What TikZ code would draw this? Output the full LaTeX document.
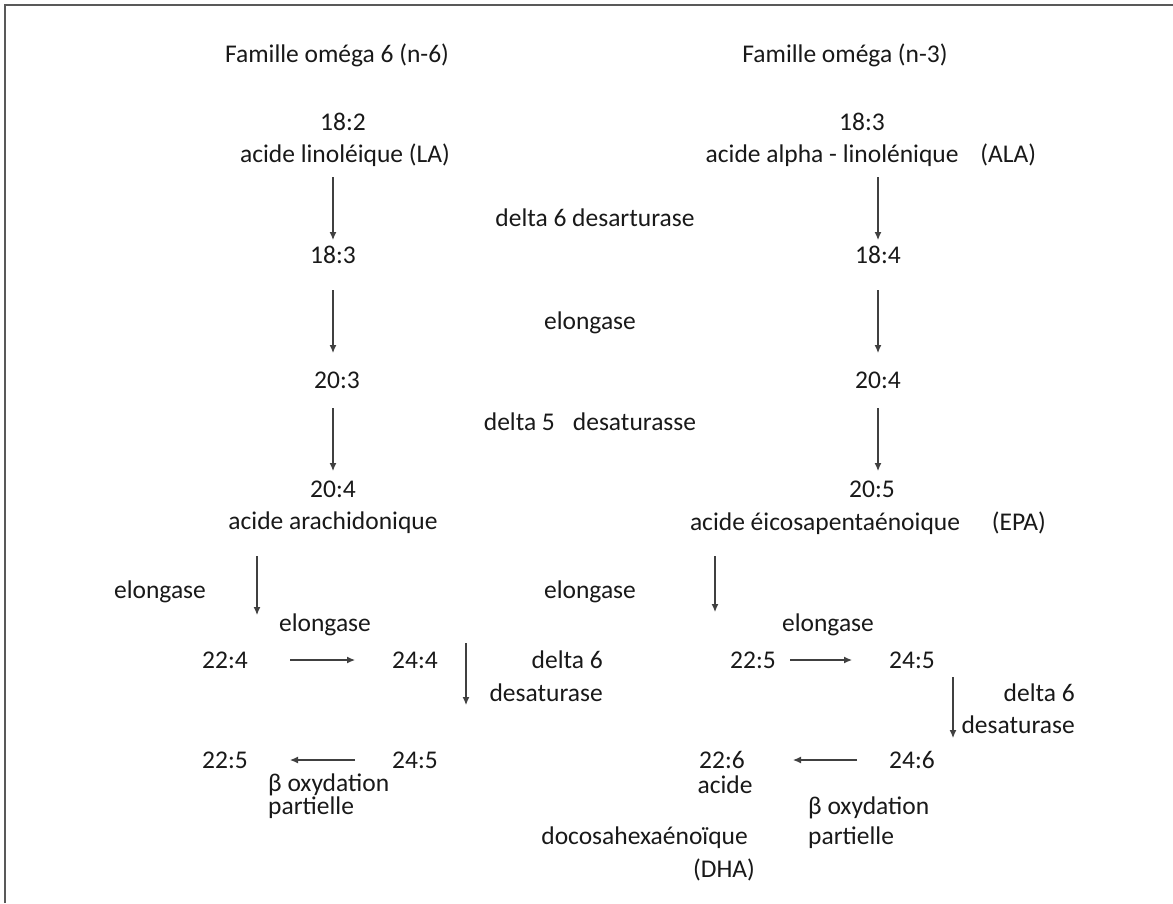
\documentclass[tikz,border=0pt]{standalone}
\usepackage{fontspec}
\setmainfont{Carlito}
\usetikzlibrary{arrows.meta}

\begin{document}
\begin{tikzpicture}
[every node/.style={inner sep=0pt, font=\fontsize{25.5pt}{30pt}\selectfont, text=black!90},
 arr/.style={line width=1.2pt, draw=black!75, -{Latex[length=8pt,width=7pt]}}]
\useasboundingbox (0pt, 0pt) rectangle (1173pt, -903pt);
\draw [line width=2pt, color=black!65] (5pt, -903pt) -- (5pt, -5pt) -- (1173pt, -5pt);
% titres
\node (t6) at (337pt, -55pt) {Famille oméga 6 (n-6)};
\node (t3) at (845pt, -55pt) {Famille oméga (n-3)};
% colonne n-6
\node (n182) at (343pt, -122pt) {18:2};
\node (la) at (345pt, -155pt) {acide linoléique (LA)};
\node (n183) at (333pt, -255pt) {18:3};
\node (n203) at (337pt, -380pt) {20:3};
\node (n204) at (333pt, -489pt) {20:4};
\node (aa) at (333pt, -523pt) {acide arachidonique};
% colonne n-3
\node (m183) at (862pt, -122pt) {18:3};
\node (ala) at (871pt, -155pt) {acide alpha - linolénique\hspace{22pt}(ALA)};
\node (m184) at (878pt, -255pt) {18:4};
\node (m204) at (878pt, -380pt) {20:4};
\node (m205) at (872pt, -489pt) {20:5};
\node (epa) at (868pt, -523pt) {acide éicosapentaénoique\hspace{32pt}(EPA)};
% enzymes
\node (d6) at (595pt, -218pt) {delta 6 desarturase};
\node (e0) at (590pt, -323pt) {elongase};
\node (d5) at (590pt, -422pt) {delta 5\hspace{18pt}desaturasse};
\node (el1) at (160pt, -592pt) {elongase};
\node (el2) at (590pt, -592pt) {elongase};
\node (el3) at (325pt, -625pt) {elongase};
\node (el4) at (828pt, -625pt) {elongase};
% bas gauche
\node (n224) at (225pt, -660pt) {22:4};
\node (n244) at (415pt, -660pt) {24:4};
\node (n225) at (225pt, -760pt) {22:5};
\node (n245) at (415pt, -760pt) {24:5};
\node (d6a) [anchor=east, align=right] at (603pt, -676pt) {delta 6\\[3pt]desaturase};
\node (bo1) [anchor=north west, align=left] at (268pt, -774pt) {β oxydation\\[-7pt]partielle};
% bas droite
\node (m225) at (753pt, -660pt) {22:5};
\node (m245) at (912pt, -660pt) {24:5};
\node (m226) at (722pt, -760pt) {22:6};
\node (m246) at (912pt, -760pt) {24:6};
\node (d6b) [anchor=east, align=right] at (1075pt, -709pt) {delta 6\\[2pt]desaturase};
\node (ac) at (725pt, -785pt) {acide};
\node (dh) [anchor=east] at (748pt, -838pt) {docosahexaénoïque};
\node (dha) at (724pt, -870pt) {(DHA)};
\node (bo2) [anchor=north west, align=left] at (808pt, -797pt) {β oxydation\\[0pt]partielle};
% points d'appui des fleches decalees
\coordinate (k1) at (257pt, -660pt);
\coordinate (k2) at (715pt, -660pt);
\coordinate (k3) at (466pt, -643pt);
\coordinate (k4) at (953pt, -677pt);
% fleches verticales
\draw [arr, shorten <=22pt, shorten >=15pt] (n183 |- la) -- (n183.center);
\draw [arr, shorten <=22pt, shorten >=15pt] (m184 |- ala) -- (m184.center);
\draw [arr, shorten <=35pt, shorten >=27pt] (n183.center) -- (n183 |- n203);
\draw [arr, shorten <=35pt, shorten >=27pt] (m184.center) -- (m204.center);
\draw [arr, shorten <=28pt, shorten >=18pt] (n204 |- n203) -- (n204.center);
\draw [arr, shorten <=28pt, shorten >=18pt] (m204.center) -- (m204 |- m205);
\draw [arr, shorten <=33pt, shorten >=45pt] (k1 |- aa) -- (k1);
\draw [arr, shorten <=33pt, shorten >=48pt] (k2 |- epa) -- (k2);
\draw [arr, shorten >=55pt] (k3) -- (k3 |- n245);
\draw [arr, shorten >=22pt] (k4) -- (k4 |- m246);
% fleches horizontales
\draw [arr, shorten <=65pt, shorten >=60pt] (n224.center) -- (n244.center);
\draw [arr, shorten <=60pt, shorten >=65pt] (n245.center) -- (n225.center);
\draw [arr, shorten <=37pt, shorten >=60pt] (m225.center) -- (m245.center);
\draw [arr, shorten <=55pt, shorten >=71pt] (m246.center) -- (m226.center);
\end{tikzpicture}
\end{document}
